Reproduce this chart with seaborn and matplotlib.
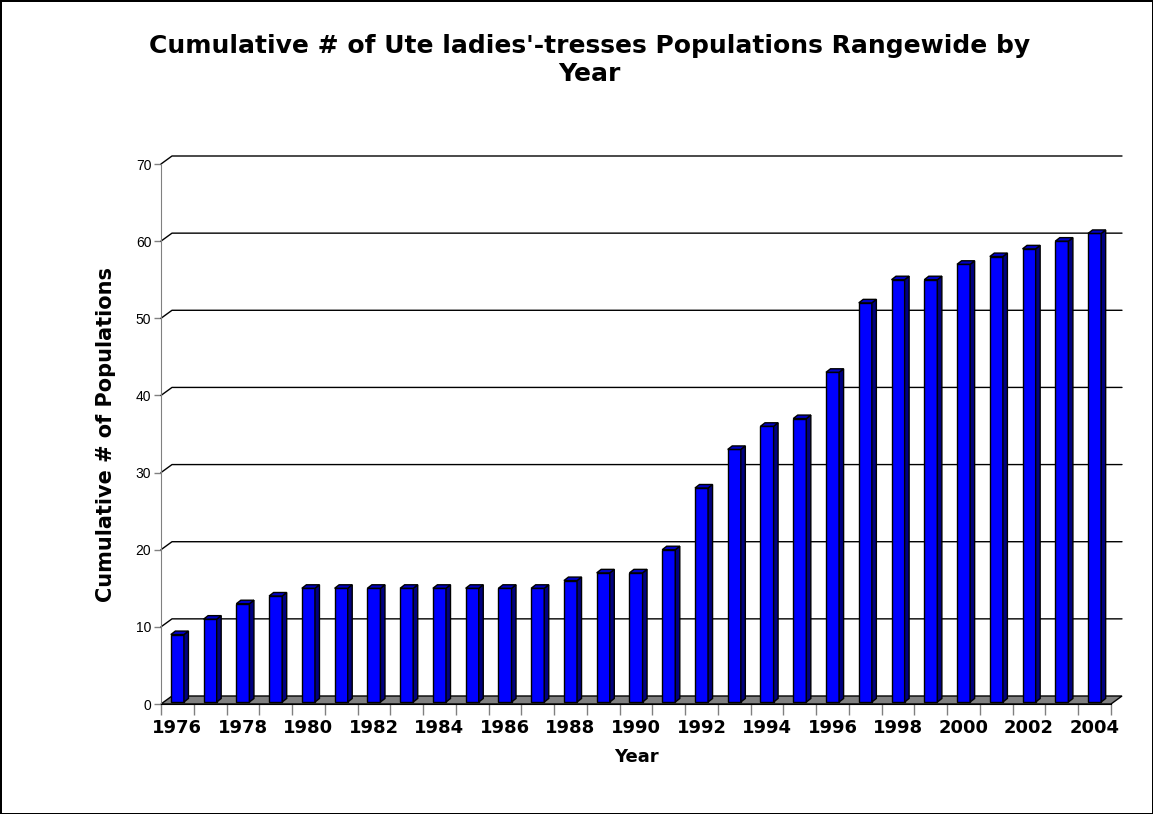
import numpy as np
import pandas as pd
import matplotlib
matplotlib.use("Agg")
import matplotlib.pyplot as plt
from matplotlib.patches import Polygon
import seaborn as sns

years = list(range(1976, 2005))
populations = [9, 11, 13, 14, 15, 15, 15, 15, 15, 15, 15, 15, 16, 17, 17,
               20, 28, 33, 36, 37, 43, 52, 55, 55, 57, 58, 59, 60, 61]
y_ticks = [0, 10, 20, 30, 40, 50, 60, 70]

title = "Cumulative # of Ute ladies'-tresses Populations Rangewide by\nYear"
x_title = "Year"
y_title = "Cumulative # of Populations"

sns.set_style("white")
plt.rcParams["font.family"] = ["DejaVu Sans"]
plt.rcParams["text.color"] = "black"
plt.rcParams["axes.labelcolor"] = "black"

df = pd.DataFrame({"year": [str(y) for y in years], "pops": populations})

fig = plt.figure(figsize=(11.53, 8.14), dpi=100, edgecolor="black", linewidth=2)
ax = fig.add_axes([161 / 1153, 1 - 704 / 814, 950 / 1153, 540 / 814])

sns.barplot(data=df, x="year", y="pops", color="#0000ff", saturation=1,
            edgecolor="black", linewidth=1, width=0.4, ax=ax, zorder=3)

n = len(years)
ax.set_xlim(-0.5, n - 0.5)
ax.set_ylim(0, 70)

# pixel -> data scale for the fake 3D depth
px_x = n / 950.0
px_y = 70 / 540.0
gdx, gdy = 11 * px_x, 8 * px_y     # wall depth
bdx, bdy = 4.5 * px_x, 3.5 * px_y  # bar depth
base = 2 * px_y                     # bars stand a little into the floor

# gridlines on the back wall
for v in y_ticks[1:]:
    ax.plot([-0.5, -0.5 + gdx, n - 0.5 + gdx], [v, v + gdy, v + gdy],
            color="black", lw=1, clip_on=False, zorder=1)

# floor
floor = Polygon([(-0.5, 0), (n - 0.5, 0), (n - 0.5 + gdx, gdy), (-0.5 + gdx, gdy)],
                closed=True, facecolor="#808080", edgecolor="black", lw=1,
                clip_on=False, zorder=2)

bars = list(ax.patches)
ax.add_patch(floor)

# lift bars onto the floor and add top and side faces
for p in bars:
    x0 = p.get_x()
    w = p.get_width()
    h = p.get_height()
    p.set_y(base)
    p.set_height(h - base)
    top = Polygon([(x0, h), (x0 + w, h), (x0 + w + bdx, h + bdy), (x0 + bdx, h + bdy)],
                  closed=True, facecolor="#0000c8", edgecolor="black", lw=1,
                  clip_on=False, zorder=3)
    side = Polygon([(x0 + w, base), (x0 + w + bdx, base + bdy), (x0 + w + bdx, h + bdy), (x0 + w, h)],
                   closed=True, facecolor="#000080", edgecolor="black", lw=1,
                   clip_on=False, zorder=3)
    ax.add_patch(side)
    ax.add_patch(top)

for s in ["top", "right"]:
    ax.spines[s].set_visible(False)
ax.spines["left"].set_color("#808080")
ax.spines["left"].set_zorder(4)
ax.spines["bottom"].set_color("black")
ax.spines["bottom"].set_zorder(4)

ax.set_yticks(y_ticks)
ax.set_yticklabels([str(v) for v in y_ticks], family="Liberation Sans", fontsize=10)
ax.tick_params(axis="y", left=True, length=5, width=1, color="#808080",
               labelcolor="black", pad=2)

ax.set_xticks(range(n))
ax.set_xticklabels([str(y) if i % 2 == 0 else "" for i, y in enumerate(years)],
                   fontsize=13, fontweight="bold")
ax.set_xticks(np.arange(-0.5, n, 1.0), minor=True)
ax.tick_params(axis="x", which="major", length=0, pad=11, labelcolor="black")
ax.tick_params(axis="x", which="minor", bottom=True, length=8, width=1, color="#808080")

ax.set_xlabel(x_title, fontsize=13, fontweight="bold", labelpad=8)
ax.set_ylabel(y_title, fontsize=15, fontweight="bold", labelpad=14)
fig.text(0.511, 1 - 60 / 814, title, ha="center", va="center",
         fontsize=18, fontweight="bold", linespacing=1.2)

fig.savefig("out.png", dpi=100, edgecolor=fig.get_edgecolor())
